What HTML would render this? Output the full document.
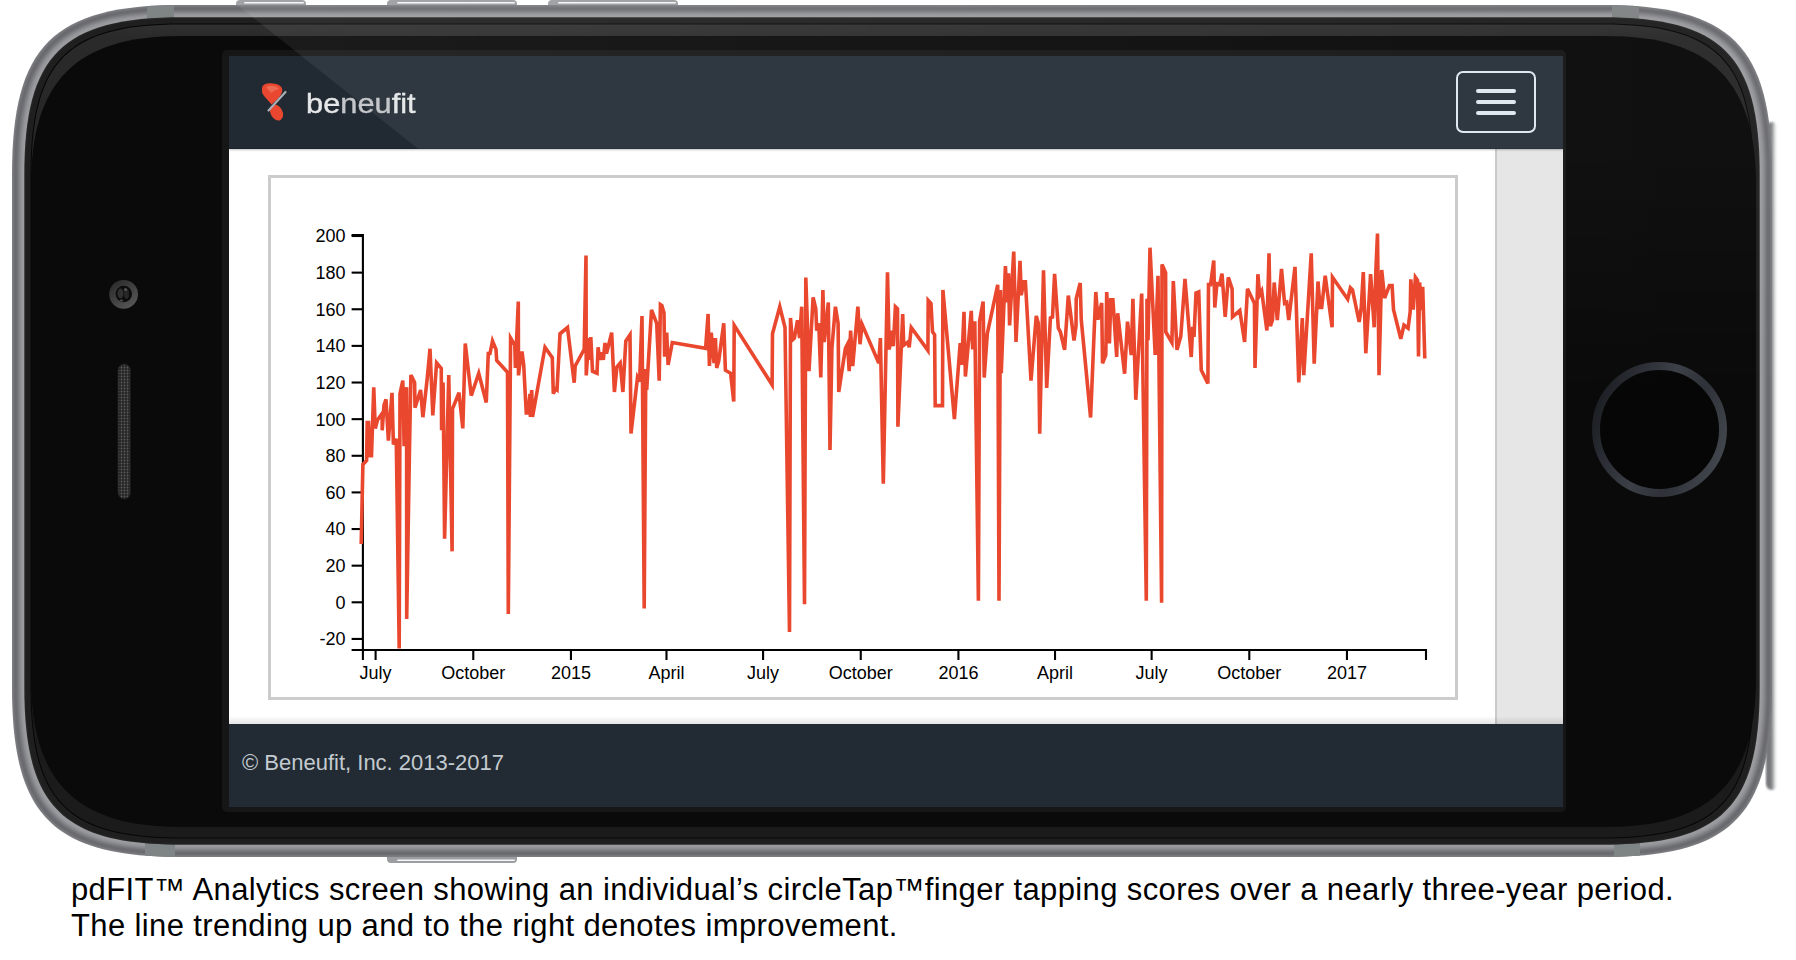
<!DOCTYPE html>
<html><head><meta charset="utf-8">
<style>
html,body{margin:0;padding:0;background:#fff;width:1796px;height:960px;overflow:hidden;position:relative;font-family:"Liberation Sans",sans-serif;}
.abs{position:absolute;}
svg.full{position:absolute;left:0;top:0;}
#screen{left:229px;top:56px;width:1334px;height:751px;background:#fff;overflow:hidden;}
#hdr{left:0;top:0;width:1334px;height:93px;background:#212a33;border-bottom:1px solid #1c232b;box-sizing:border-box;box-shadow:0 1px 2px rgba(0,0,0,0.25);z-index:2;}
#sb{left:1266px;top:92px;width:68px;height:576px;background:#e6e6e6;border-left:2px solid #cacaca;box-sizing:border-box;}
#shadow{left:0;top:660px;width:1334px;height:8px;background:linear-gradient(to bottom,rgba(0,0,0,0),rgba(0,0,0,0.10));}
#ftr{left:0;top:668px;width:1334px;height:83px;background:#222b33;}
#ftxt{left:13px;top:694px;font-size:22px;line-height:26px;color:#c3cad0;white-space:nowrap;}
#chartbox{left:39px;top:119px;width:1190px;height:525px;border:3.5px solid #cccccc;box-sizing:border-box;}
#logo{left:77px;top:32px;font-size:28px;line-height:32px;color:#e6e7e8;letter-spacing:0;white-space:nowrap;-webkit-text-stroke:0.4px currentColor;transform:scaleX(1.1);transform-origin:0 0;}
#burger{left:1227px;top:15px;width:80px;height:62px;border:2px solid #dfe7ef;border-radius:7px;box-sizing:border-box;}
.bl{position:absolute;left:18px;width:40px;height:4px;border-radius:2px;background:#dfe7ef;}
#cap{left:71px;top:871.8px;font-size:31px;line-height:36px;letter-spacing:0.38px;color:#000;white-space:nowrap;}
</style></head>
<body>
<svg class="full" width="1796" height="960" viewBox="0 0 1796 960">
  <defs>
    <clipPath id="bodyclip"><path d="M182,5 H1602 C1731.2,5 1772,45.8 1772,175 V687 C1772,816.2 1731.2,857 1602,857 H182 C52.8,857 12,816.2 12,687 V175 C12,45.8 52.8,5 182,5 Z"/></clipPath>
    <filter id="bl1" x="-5%" y="-5%" width="110%" height="110%"><feGaussianBlur stdDeviation="1.2"/></filter>
    <filter id="bl2" x="-5%" y="-5%" width="110%" height="110%"><feGaussianBlur stdDeviation="2.5"/></filter>
    <linearGradient id="btn" x1="0" y1="0" x2="0" y2="1">
      <stop offset="0" stop-color="#c9cacd"/><stop offset="1" stop-color="#7f8084"/>
    </linearGradient>
    <linearGradient id="btnb" x1="0" y1="1" x2="0" y2="0">
      <stop offset="0" stop-color="#c9cacd"/><stop offset="1" stop-color="#7f8084"/>
    </linearGradient>
    <linearGradient id="camring" x1="0.2" y1="0.1" x2="0.8" y2="0.9">
      <stop offset="0" stop-color="#2e2e2e"/><stop offset="1" stop-color="#555555"/>
    </linearGradient>
    <radialGradient id="cam" cx="0.5" cy="0.5" r="0.5">
      <stop offset="0" stop-color="#2a2a2a"/><stop offset="0.55" stop-color="#151515"/><stop offset="0.75" stop-color="#3a3a3a"/><stop offset="1" stop-color="#1c1c1c"/>
    </radialGradient>
    <pattern id="mesh" width="3" height="3" patternUnits="userSpaceOnUse">
      <rect width="3" height="3" fill="#262626"/><circle cx="1.5" cy="1.5" r="0.9" fill="#5a5a5a"/>
    </pattern>
    <linearGradient id="ring" x1="0" y1="0.3" x2="1" y2="0.7">
      <stop offset="0" stop-color="#1c1f24"/><stop offset="0.45" stop-color="#3b3f46"/><stop offset="0.7" stop-color="#2e3238"/><stop offset="1" stop-color="#42464d"/>
    </linearGradient>
    <linearGradient id="glare" x1="300" y1="0" x2="1700" y2="0" gradientUnits="userSpaceOnUse">
      <stop offset="0" stop-color="#fff" stop-opacity="0.07"/>
      <stop offset="1" stop-color="#fff" stop-opacity="0.028"/>
    </linearGradient>
    <linearGradient id="glmaskg" x1="0" y1="0" x2="0" y2="870" gradientUnits="userSpaceOnUse">
      <stop offset="0" stop-color="#fff"/><stop offset="0.17" stop-color="#fff"/><stop offset="0.5" stop-color="#000"/>
    </linearGradient>
    <mask id="glmask" maskUnits="userSpaceOnUse" x="0" y="0" width="1796" height="870"><rect width="1796" height="870" fill="url(#glmaskg)"/></mask>
    <linearGradient id="bandg" x1="0" y1="0" x2="0" y2="1">
      <stop offset="0" stop-color="#303030"/><stop offset="0.015" stop-color="#2a2a2a"/><stop offset="0.5" stop-color="#1c1c1c"/><stop offset="1" stop-color="#1b1b1b"/>
    </linearGradient>
    <linearGradient id="sideg" x1="0" y1="0" x2="1" y2="0">
      <stop offset="0" stop-color="#6a6b6f"/><stop offset="0.5" stop-color="#858689"/><stop offset="1" stop-color="#ffffff" stop-opacity="0"/>
    </linearGradient>
  </defs>
  <!-- buttons -->
  <g id="btns">
  <rect x="236" y="0" width="70" height="12" rx="4" fill="#9c9da1"/>
  <rect x="387" y="0" width="130" height="12" rx="4" fill="#9c9da1"/>
  <rect x="548" y="0" width="130" height="12" rx="4" fill="#9c9da1"/>
  <rect x="244" y="2" width="60" height="1.6" rx="0.8" fill="#f4f6f8"/>
  <rect x="397" y="2" width="118" height="1.6" rx="0.8" fill="#f4f6f8"/>
  <rect x="558" y="2" width="118" height="1.6" rx="0.8" fill="#f4f6f8"/>
  <rect x="387" y="850" width="130" height="13" rx="4" fill="#9c9da1"/>
  <rect x="397" y="859.4" width="118" height="1.6" rx="0.8" fill="#f4f6f8"/>
  </g>
  <rect x="1766" y="122" width="12" height="668" rx="6" fill="url(#sideg)" filter="url(#bl1)"/>
  <!-- body -->
  <path fill="#7d7e82" d="M182,5 H1602 C1731.2,5 1772,45.8 1772,175 V687 C1772,816.2 1731.2,857 1602,857 H182 C52.8,857 12,816.2 12,687 V175 C12,45.8 52.8,5 182,5 Z"/>
  <path fill="#636469" d="M182,7 H1602 C1729.68,7 1770,47.32 1770,175 V687 C1770,814.68 1729.68,855 1602,855 H182 C54.32,855 14,814.68 14,687 V175 C14,47.32 54.32,7 182,7 Z" filter="url(#bl1)"/>
  <path fill="#9d9ea2" d="M182,12 H1602 C1725.88,12 1765,51.12 1765,175 V687 C1765,810.88 1725.88,850 1602,850 H182 C58.12,850 19,810.88 19,687 V175 C19,51.12 58.12,12 182,12 Z" filter="url(#bl2)"/>
  <g fill="#7f8484" clip-path="url(#bodyclip)">
    <rect x="147" y="0" width="27" height="24"/><rect x="1612" y="0" width="27" height="24"/>
    <rect x="145" y="838" width="30" height="24"/><rect x="1614" y="838" width="26" height="24"/>
  </g>
  <path fill="#262626" d="M182.0,17.3 H1602.0 C1721.852,17.3 1759.7,55.147999999999996 1759.7,175.0 V687.0 C1759.7,806.8520000000001 1721.852,844.7 1602.0,844.7 H182.0 C62.147999999999996,844.7 24.3,806.8520000000001 24.3,687.0 V175.0 C24.3,55.147999999999996 62.147999999999996,17.3 182.0,17.3 Z"/>
  <path fill="#1f1f1f" d="M182.0,18.5 H1602.0 C1720.94,18.5 1758.5,56.059999999999995 1758.5,175.0 V687.0 C1758.5,805.94 1720.94,843.5 1602.0,843.5 H182.0 C63.059999999999995,843.5 25.5,805.94 25.5,687.0 V175.0 C25.5,56.059999999999995 63.059999999999995,18.5 182.0,18.5 Z"/>
  <path fill="#060606" d="M182.0,23.5 H1602.0 C1717.14,23.5 1753.5,59.86 1753.5,175.0 V687.0 C1753.5,802.14 1717.14,838.5 1602.0,838.5 H182.0 C66.86,838.5 30.5,802.14 30.5,687.0 V175.0 C30.5,59.86 66.86,23.5 182.0,23.5 Z"/>
  <path fill="url(#bandg)" d="M182.0,24.5 H1602.0 C1716.38,24.5 1752.5,60.62 1752.5,175.0 V687.0 C1752.5,801.38 1716.38,837.5 1602.0,837.5 H182.0 C67.62,837.5 31.5,801.38 31.5,687.0 V175.0 C31.5,60.62 67.62,24.5 182.0,24.5 Z"/>
  <path fill="#0a0a0a" d="M181,36 H1606 C1711.0,36 1756,81.0 1756,186 V677 C1756,782.0 1711.0,827 1606,827 H181 C76.0,827 31,782.0 31,677 V186 C31,81.0 76.0,36 181,36 Z"/>
  <!-- camera / speaker -->
  <circle cx="123.6" cy="294.3" r="14.4" fill="url(#camring)"/>
  <circle cx="123.8" cy="294" r="8.2" fill="#0c0c0c"/>
  <ellipse cx="120.5" cy="293.5" rx="3" ry="5" fill="#3a3a3a" opacity="0.8"/>
  <ellipse cx="126.5" cy="294" rx="2.5" ry="5" fill="#262626"/>
  <circle cx="125.5" cy="289.5" r="1.6" fill="#555"/>
  <ellipse cx="121.5" cy="300.5" rx="1.8" ry="1" fill="#4a4a4a"/>
  <rect x="118" y="364" width="12.5" height="135" rx="6.2" fill="url(#mesh)" stroke="#1a1a1a" stroke-width="1"/>
  <!-- home button -->
  <circle cx="1659.5" cy="429.5" r="63.5" fill="#060606" stroke="url(#ring)" stroke-width="8"/>
  <!-- screen frame -->
  <rect x="222" y="50" width="1344" height="762" rx="5" fill="#161616"/>
  <polygon points="231,0 1796,0 1796,870 1325,870" fill="url(#glare)" mask="url(#glmask)"/>
</svg>
<div class="abs" id="screen">
  <div class="abs" id="hdr">
    <svg class="full" width="100" height="92" viewBox="229 56 100 92">
      <path d="M262,88 C263,83 270,82.5 276,84 C281,85.5 283,88 282,92 C281,96 276,101 271.5,104.5 C268,100 263,96 262,92 Z" fill="#e9472f"/>
      <path d="M266,87 C270,85 277,85.5 279,89 C276,90 273,91 271,93 Z" fill="#f0806a" opacity="0.6"/>
      <ellipse cx="276.5" cy="112.5" rx="6" ry="8.5" transform="rotate(-28 276.5 112.5)" fill="#e9472f"/>
      <line x1="285.5" y1="92" x2="268.5" y2="110.5" stroke="#a9aeb3" stroke-width="2.2" stroke-linecap="round"/>
    </svg>
    <svg class="full" width="1334" height="93" viewBox="0 0 1334 93"><polygon points="72.4,0 1334,0 1334,93 189.4,93" fill="#fff" fill-opacity="0.068"/></svg>
    <div class="abs" id="logo">be<span style="color:#c4c6c9">neu</span>fit</div>
    <div class="abs" id="burger"><div class="bl" style="top:16.2px"></div><div class="bl" style="top:27.1px"></div><div class="bl" style="top:38px"></div></div>
  </div>
  <div class="abs" id="sb"></div>
  <div class="abs" id="chartbox"></div>
  <div class="abs" id="shadow"></div>
  <div class="abs" id="ftr"></div>
  <div class="abs" id="ftxt">© Beneufit, Inc. 2013-2017</div>
</div>
<svg class="full" width="1796" height="960" viewBox="0 0 1796 960">
  <g stroke="#000" stroke-width="2.1" fill="none">
    <path d="M351.6,650 H362.9 V235 H351.6"/>
    <path d="M362.9,660 V650 H1426 V660"/>
    <line x1="351.6" y1="638.93" x2="362.9" y2="638.93"/><line x1="351.6" y1="602.30" x2="362.9" y2="602.30"/><line x1="351.6" y1="565.67" x2="362.9" y2="565.67"/><line x1="351.6" y1="529.04" x2="362.9" y2="529.04"/><line x1="351.6" y1="492.41" x2="362.9" y2="492.41"/><line x1="351.6" y1="455.78" x2="362.9" y2="455.78"/><line x1="351.6" y1="419.15" x2="362.9" y2="419.15"/><line x1="351.6" y1="382.52" x2="362.9" y2="382.52"/><line x1="351.6" y1="345.89" x2="362.9" y2="345.89"/><line x1="351.6" y1="309.26" x2="362.9" y2="309.26"/><line x1="351.6" y1="272.63" x2="362.9" y2="272.63"/><line x1="351.6" y1="236.00" x2="362.9" y2="236.00"/>
    <line x1="375.60" y1="650" x2="375.60" y2="660"/><line x1="473.27" y1="650" x2="473.27" y2="660"/><line x1="570.93" y1="650" x2="570.93" y2="660"/><line x1="666.48" y1="650" x2="666.48" y2="660"/><line x1="763.08" y1="650" x2="763.08" y2="660"/><line x1="860.75" y1="650" x2="860.75" y2="660"/><line x1="958.42" y1="650" x2="958.42" y2="660"/><line x1="1055.02" y1="650" x2="1055.02" y2="660"/><line x1="1151.63" y1="650" x2="1151.63" y2="660"/><line x1="1249.30" y1="650" x2="1249.30" y2="660"/><line x1="1346.96" y1="650" x2="1346.96" y2="660"/>
  </g>
  <g font-family="Liberation Sans" font-size="18" fill="#000">
    <text x="345.6" y="645.33" text-anchor="end">-20</text><text x="345.6" y="608.70" text-anchor="end">0</text><text x="345.6" y="572.07" text-anchor="end">20</text><text x="345.6" y="535.44" text-anchor="end">40</text><text x="345.6" y="498.81" text-anchor="end">60</text><text x="345.6" y="462.18" text-anchor="end">80</text><text x="345.6" y="425.55" text-anchor="end">100</text><text x="345.6" y="388.92" text-anchor="end">120</text><text x="345.6" y="352.29" text-anchor="end">140</text><text x="345.6" y="315.66" text-anchor="end">160</text><text x="345.6" y="279.03" text-anchor="end">180</text><text x="345.6" y="242.40" text-anchor="end">200</text>
    <text x="375.60" y="679" text-anchor="middle">July</text><text x="473.27" y="679" text-anchor="middle">October</text><text x="570.93" y="679" text-anchor="middle">2015</text><text x="666.48" y="679" text-anchor="middle">April</text><text x="763.08" y="679" text-anchor="middle">July</text><text x="860.75" y="679" text-anchor="middle">October</text><text x="958.42" y="679" text-anchor="middle">2016</text><text x="1055.02" y="679" text-anchor="middle">April</text><text x="1151.63" y="679" text-anchor="middle">July</text><text x="1249.30" y="679" text-anchor="middle">October</text><text x="1346.96" y="679" text-anchor="middle">2017</text>
  </g>
  <path d="M361.2,544 L362.9,464.4 L366.6,460.6 L367.2,422.5 L368.5,422.5 L370,455.6 L371.5,455.6 L373.75,387.3 L375.25,428.5 L377.5,420 L382.2,413.4 L382.2,430.3 L384,405 L386,399.4 L388.4,440.6 L392,392.8 L393.4,444.4 L396.25,438.75 L399.2,648.5 L400,393.75 L402.8,380.6 L404.1,446.25 L406.6,387.2 L406.7,619 L409.4,453.75 L410.9,375 L414.6,382.5 L415,407.8 L420.6,390 L422.9,417.2 L427.2,378.75 L430,348.75 L432.8,415.3 L436.6,362.8 L441.25,368.4 L441.6,430.3 L443.1,382.5 L444.6,538.8 L448.75,375 L452.1,551.4 L452.5,408.75 L459,392.8 L462.8,428.4 L465.25,343.5 L471.25,395.6 L478.75,373.3 L486.25,402.5 L488.3,353.5 L490,353.5 L492.5,341 L496,349.4 L496.7,360.4 L507.5,372.3 L508.3,613.9 L510.6,338 L514.8,345.2 L515.4,368 L518.3,301.5 L518.5,375.4 L520,363 L522,351.5 L523.7,365 L526.25,413 L528,413 L530,394 L530.4,417 L531.7,390 L532.5,417 L545,347.3 L552.3,357.7 L553.3,393.75 L555.4,389 L557,390 L560,333.75 L567.5,327.5 L574.2,382.7 L575.2,366 L584.2,349.4 L586,255.6 L586.25,375.4 L588.75,338 L589.8,360 L590.8,337 L592.5,371.25 L597,373.3 L598.1,347.3 L599.6,359.8 L601.2,352.5 L603.3,359.8 L605,343 L606.5,353.5 L611.7,332.7 L614.4,392 L616.9,367 L620.2,363 L622.9,392 L625.8,341 L630,334.8 L631,433.5 L637.5,377.5 L639.6,381.7 L642,316 L644.2,608.5 L645.8,369 L646.7,390 L651.5,309.8 L656.7,323.3 L659.2,380.6 L660.4,304.6 L661.9,305.6 L664,313 L664.6,356.7 L666.7,332.7 L668.1,365 L672.3,342.5 L705.6,348.3 L708.1,314 L709.4,366 L711.25,332.7 L714,363 L715.4,338 L716.7,368 L718.75,360.8 L723.75,323.3 L725.4,370.2 L730.6,373.3 L733.75,401.5 L734.2,325.4 L772.1,384.8 L772.5,333.75 L779.8,306.7 L785,327.5 L789.5,632 L790.5,318 L792.3,340 L794.4,338 L797.5,320.2 L799.6,338 L801.7,306.7 L804.5,604.3 L805.8,277.5 L809,371.25 L813.1,297.3 L815.8,308.75 L816.7,330.6 L818.75,323.3 L820.8,377.5 L822.9,290 L824.2,342 L828.3,302.5 L830,450 L831.9,348.3 L835.4,306.7 L838.1,323.3 L838.75,392 L845.4,348.3 L847.5,344.2 L849.2,371.25 L850.6,330.6 L852.7,366 L857.9,306.7 L860,344.2 L862.1,324.4 L878.75,363 L880.4,338 L883.3,483.7 L887.5,272.3 L889.2,349.4 L891.7,330.6 L893.3,346.25 L895.4,306.7 L897.5,308.75 L897.9,426.7 L902.7,314 L903.75,345.2 L907.9,342 L909.2,347.3 L911.25,327.5 L927.9,350.4 L928.2,300.4 L931,303.5 L932.5,331.7 L934.6,334.8 L935.2,405.6 L942.5,405.6 L942.9,290 L954.4,419.2 L960.2,343.1 L961.7,365 L964,311.9 L965.4,376.5 L971.25,310.8 L972.7,349.4 L974.8,321.25 L978.4,600.7 L979.6,321.25 L983.1,301.5 L984.2,377.5 L987.3,333.75 L997.7,284.8 L999,600.7 L1000.4,290 L1001.25,373.3 L1005.4,266 L1007.1,302.5 L1008.5,273.3 L1009.6,325.4 L1013.75,251.5 L1016,342 L1020,260.8 L1021.25,295.2 L1023.75,281.7 L1025.4,281.7 L1031,380.6 L1036.25,316 L1038.3,323.3 L1039.7,433.8 L1043.5,270.2 L1046.7,388 L1050.4,318 L1052.5,317 L1054.6,273.75 L1058.3,328 L1060.4,332 L1064.6,349.8 L1068.3,295.6 L1074,340.4 L1076,325.8 L1076.2,298.75 L1080.2,283 L1081.25,319.6 L1090.6,417.5 L1095.8,292 L1097.9,319.6 L1101.7,303 L1102.5,363.3 L1105.8,355 L1106.7,292 L1109.4,343.5 L1110.8,299.8 L1112.9,299.8 L1116.7,357 L1117.7,313.3 L1124.6,373.75 L1127.5,321.7 L1131.25,355 L1132.9,298.75 L1135.8,399.8 L1141.7,293.5 L1146.3,600.7 L1147,298.75 L1148,340.4 L1150,247.7 L1155.2,355 L1158,275.8 L1161.6,602.8 L1162,264.4 L1165.6,272.7 L1165.8,332 L1171.9,342.5 L1173.3,281 L1177,349.8 L1180.8,336.25 L1185,279 L1191.25,357 L1192.7,326.9 L1194,337 L1196,293 L1198.75,291.9 L1201.25,370 L1207.9,383.5 L1208.5,284.6 L1210.6,284.6 L1213.75,260.6 L1214.8,307.5 L1216.9,283.5 L1219.6,284.6 L1222,273.75 L1225.2,316.9 L1228.3,277.3 L1232.1,288.75 L1232.5,316.9 L1239.8,310.6 L1244.6,341.9 L1247.5,288.75 L1254.4,303.3 L1255,367.9 L1257.9,274.2 L1259.6,295 L1261.7,291 L1266.9,330.4 L1269,253.3 L1270.4,326.25 L1272.5,320 L1274.2,282.5 L1277.3,320 L1281.5,269 L1284.6,303.3 L1286.7,302.3 L1288.75,320 L1295,266.9 L1298.75,382.5 L1302.3,318 L1303.75,375.2 L1311.25,253.3 L1314.2,363.75 L1318,281.5 L1320,307.5 L1321.7,307.5 L1325.2,275.8 L1332.1,327.3 L1332.5,277.3 L1347.7,299.2 L1350.4,287.7 L1352.5,289.8 L1359.2,322 L1361.25,307.5 L1363.3,272 L1365.8,353.3 L1370.6,274.2 L1374.2,327.3 L1375.8,272 L1377.5,233.5 L1379,375.2 L1381.7,270 L1384.6,298 L1389.4,285.6 L1392.1,285.6 L1393.5,309.6 L1400.8,338.75 L1404,325.2 L1408.1,328.3 L1410.2,311.7 L1410.8,279.4 L1413.3,309.6 L1415.4,277.3 L1417.5,280.4 L1418.5,356.5 L1419.6,282.5 L1421.7,310 L1422.7,286.7 L1424.8,358.5" fill="none" stroke="#e9482f" stroke-width="3.6"/>
</svg>
<div class="abs" id="cap">pdFIT™ Analytics screen showing an individual’s circleTap™finger tapping scores over a nearly three-year period.<br>The line trending up and to the right denotes improvement.</div>
</body></html>
